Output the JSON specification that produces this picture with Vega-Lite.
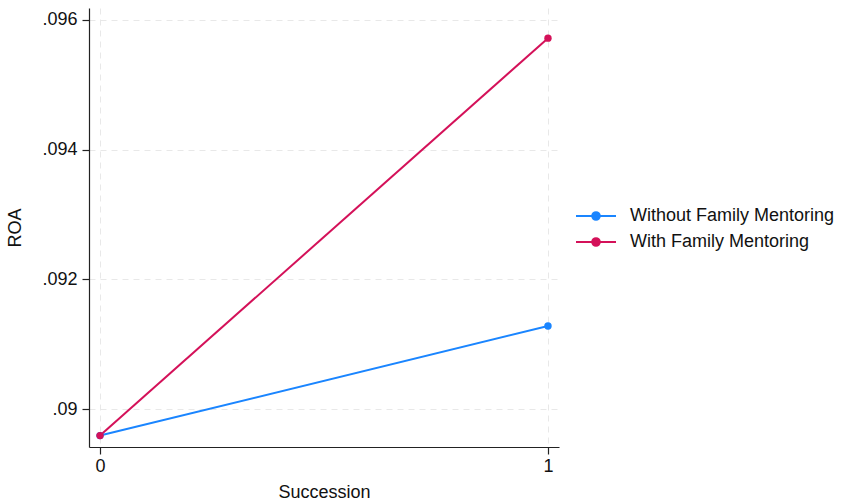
{
  "$schema": "https://vega.github.io/schema/vega-lite/v6.json",
  "width": 470,
  "height": 439,
  "autosize": {"type": "none"},
  "padding": {"left": 89, "top": 8, "right": 282, "bottom": 56},
  "background": "white",
  "config": {
    "view": {"stroke": null},
    "font": "Liberation Sans",
    "axis": {
      "labelFont": "Liberation Sans",
      "titleFont": "Liberation Sans",
      "labelFontSize": 18,
      "titleFontSize": 18,
      "titleFontWeight": "normal",
      "labelColor": "#111",
      "titleColor": "#111",
      "domainColor": "#222",
      "tickColor": "#222",
      "domainWidth": 1.2,
      "tickWidth": 1.2,
      "tickSize": 7,
      "gridColor": "#e8e8e8",
      "gridDash": [6, 5],
      "gridWidth": 1
    },
    "legend": {
      "labelFont": "Liberation Sans",
      "labelFontSize": 18,
      "labelColor": "#111",
      "labelLimit": 0
    }
  },
  "data": {
    "values": [
      {"succession": 0, "roa": 0.08959, "group": "Without Family Mentoring"},
      {"succession": 1, "roa": 0.09128, "group": "Without Family Mentoring"},
      {"succession": 0, "roa": 0.08959, "group": "With Family Mentoring"},
      {"succession": 1, "roa": 0.09572, "group": "With Family Mentoring"}
    ]
  },
  "encoding": {
    "x": {
      "field": "succession",
      "type": "quantitative",
      "title": "Succession",
      "scale": {"domain": [-0.0246, 1.0246], "nice": false, "zero": false},
      "axis": {"values": [0, 1], "format": "d", "labelPadding": 3, "titlePadding": 8, "labelFlush": false}
    },
    "y": {
      "field": "roa",
      "type": "quantitative",
      "title": "ROA",
      "scale": {"domain": [0.089414, 0.096185], "nice": false, "zero": false},
      "axis": {
        "values": [0.09, 0.092, 0.094, 0.096],
        "labelExpr": "substring(format(datum.value, '.3~f'), 1)",
        "labelPadding": 5,
        "titlePadding": 17,
        "labelFlush": false
      }
    },
    "color": {
      "field": "group",
      "type": "nominal",
      "sort": ["Without Family Mentoring", "With Family Mentoring"],
      "scale": {"domain": ["Without Family Mentoring", "With Family Mentoring"], "range": ["#1a85ff", "#d41159"]},
      "legend": {
        "title": null,
        "orient": "none",
        "legendX": 496,
        "legendY": 197,
        "padding": 0,
        "labelLimit": 0,
        "symbolType": "M-2,0L2,0M-0.38,0A0.38,0.38,0,1,0,0.38,0A0.38,0.38,0,1,0,-0.38,0Z",
        "symbolSize": 400,
        "symbolStrokeWidth": 2,
        "labelOffset": 23,
        "rowPadding": 6,
        "encode": {
          "symbols": {"update": {"fill": {"scale": "color", "field": "value"}, "stroke": {"scale": "color", "field": "value"}, "fillOpacity": {"value": 1}}}
        }
      }
    }
  },
  "layer": [
    {"mark": {"type": "line", "strokeWidth": 2}},
    {"mark": {"type": "point", "filled": true, "size": 55, "opacity": 1}}
  ]
}
